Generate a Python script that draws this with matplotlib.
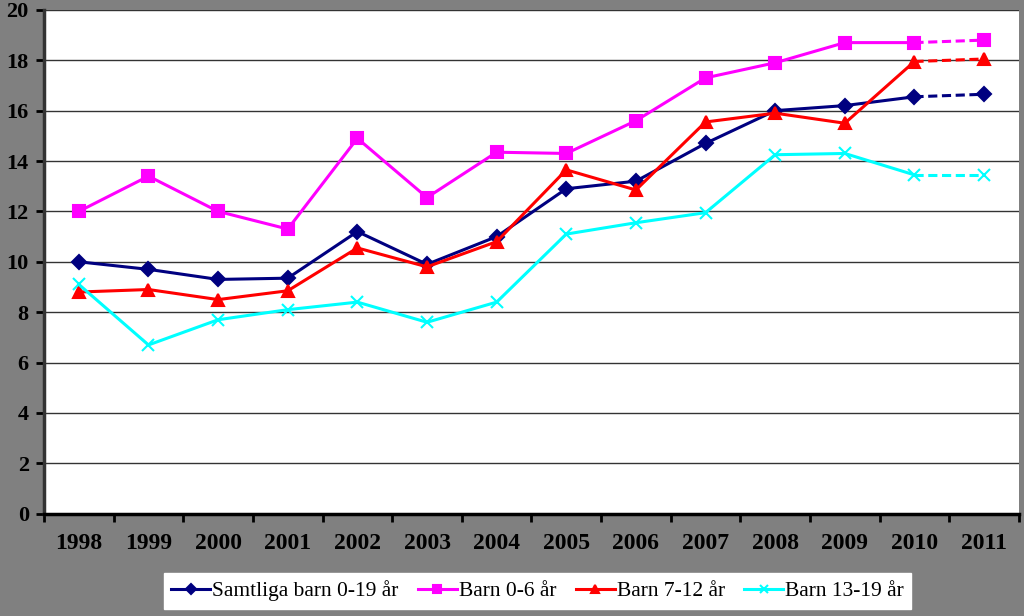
import matplotlib
matplotlib.use("Agg")
import matplotlib.pyplot as plt
import numpy as np

years = ["1998", "1999", "2000", "2001", "2002", "2003", "2004",
         "2005", "2006", "2007", "2008", "2009", "2010", "2011"]
samtliga = [10.0, 9.7, 9.3, 9.35, 11.2, 9.9, 11.0, 12.9, 13.2, 14.7, 16.0, 16.2, 16.55, 16.65]
barn_0_6 = [12.0, 13.4, 12.0, 11.3, 14.9, 12.55, 14.35, 14.3, 15.6, 17.3, 17.9, 18.7, 18.7, 18.8]
barn_7_12 = [8.8, 8.9, 8.5, 8.85, 10.55, 9.8, 10.8, 13.65, 12.85, 15.55, 15.9, 15.5, 17.95, 18.05]
barn_13_19 = [9.1, 6.7, 7.7, 8.1, 8.4, 7.6, 8.4, 11.1, 11.55, 11.95, 14.25, 14.3, 13.45, 13.45]

series = [
    ("Samtliga barn 0-19 år", samtliga, "#000080", "D", 7),
    ("Barn 0-6 år", barn_0_6, "#ff00ff", "s", 9),
    ("Barn 7-12 år", barn_7_12, "#ff0000", "^", 9),
    ("Barn 13-19 år", barn_13_19, "#00ffff", "x", 8),
]

plt.rcParams['font.family'] = ['Liberation Serif', 'DejaVu Serif']

fig = plt.figure(figsize=(10.24, 6.16), dpi=100, facecolor="#808080")
ax = fig.add_axes([0.043, 0.166, 0.952, 0.818])
ax.set_facecolor("white")

x = np.arange(len(years))
handles = []
for label, vals, color, marker, ms in series:
    h, = ax.plot(x[:-1], vals[:-1], color=color, lw=2.2, marker=marker, ms=ms,
                 mew=1.5, label=label)
    ax.plot(x[-2:], vals[-2:], color=color, lw=2.2, ls=(0, (3, 1.5)),
            marker=marker, ms=ms, mew=1.5, markevery=[1])
    handles.append(h)

ax.set_ylim(0, 20)
ax.set_yticks(np.arange(0, 21, 2))
ax.yaxis.grid(True, color="#333333", lw=1)
ax.set_axisbelow(True)
ax.set_xlim(-0.5, len(years) - 0.5)
ax.set_xticks(np.arange(-0.5, len(years), 1))
ax.set_xticklabels([])
ax.set_xticks(x, minor=True)
ax.set_xticklabels(years, minor=True)
ax.tick_params(axis="x", which="minor", length=0, pad=14)
ax.tick_params(axis="x", which="major", length=6, width=2, direction="out")
ax.tick_params(axis="y", length=6, width=2, direction="out", pad=5)
for lab in ax.get_xticklabels(minor=True):
    lab.set_fontsize(17)
    lab.set_fontweight("bold")
for lab in ax.get_yticklabels():
    lab.set_fontsize(16)
    lab.set_fontweight("bold")

for s in ["top", "right"]:
    ax.spines[s].set_visible(False)
ax.spines["left"].set_linewidth(2.5)
ax.spines["left"].set_color("#333333")
ax.spines["bottom"].set_linewidth(2.5)
ax.spines["bottom"].set_color("black")

leg = fig.legend(handles=handles, loc="lower center", bbox_to_anchor=(0.525, -0.006),
                 ncol=4, fontsize=15.5, frameon=True, fancybox=False,
                 handlelength=1.8, handletextpad=0.1, columnspacing=0.9,
                 borderpad=0.35, markerscale=0.7)
leg.get_frame().set_edgecolor("white")
leg.get_frame().set_facecolor("white")
leg.get_frame().set_alpha(1)

fig.savefig("out.png", dpi=100, facecolor=fig.get_facecolor())
